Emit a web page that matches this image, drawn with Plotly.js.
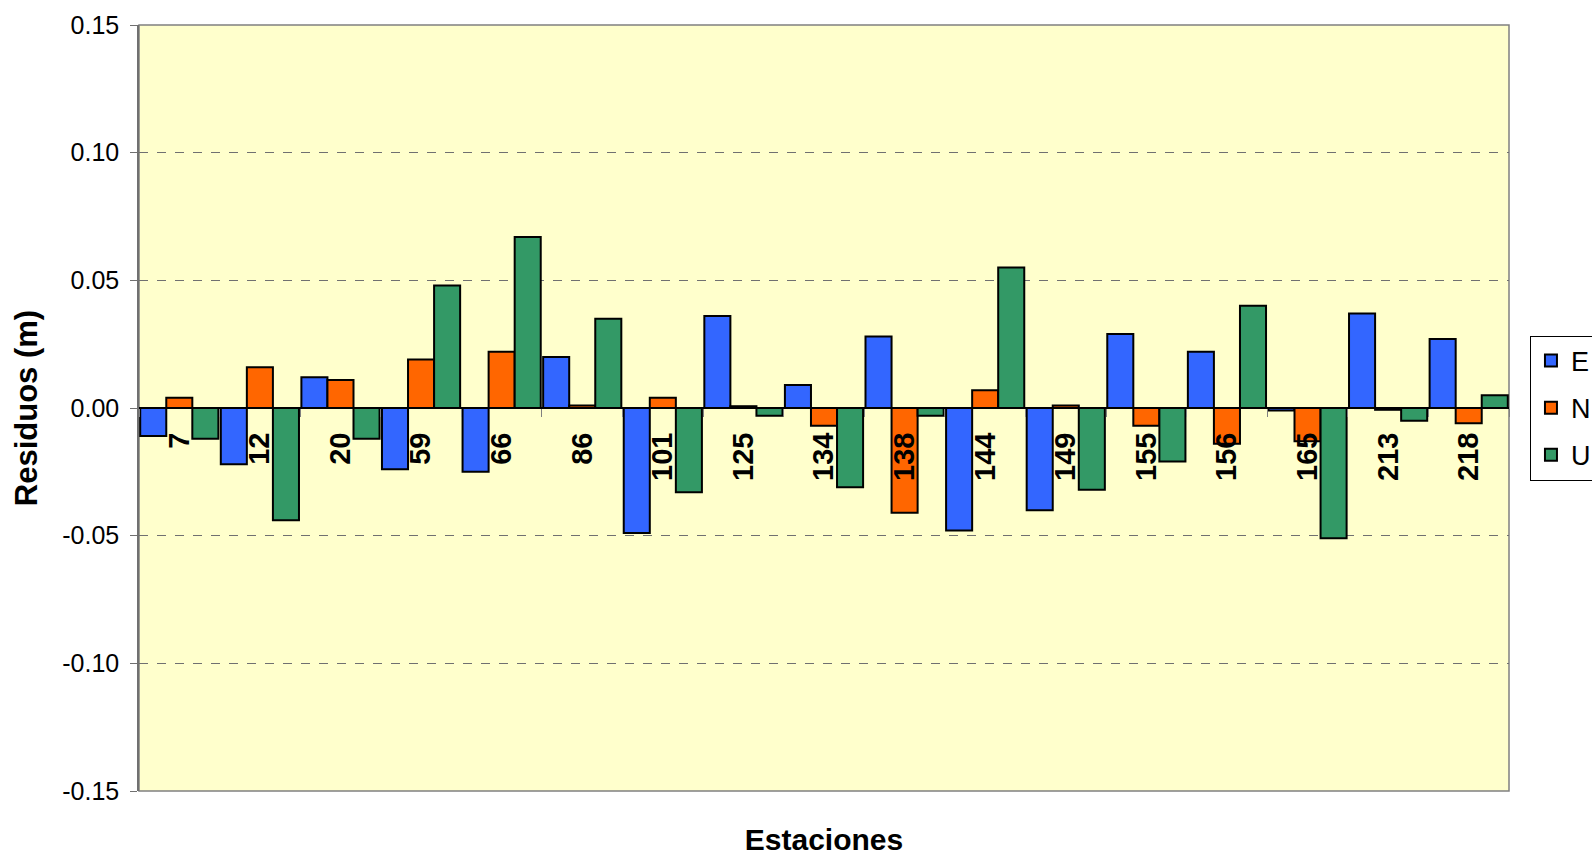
<!DOCTYPE html>
<html>
<head>
<meta charset="utf-8">
<script src="https://cdn.plot.ly/plotly-3.0.1.min.js"></script>
<style>html,body{margin:0;padding:0;background:#fff;}#chart{width:1592px;height:856px;}</style>
</head>
<body>
<div id="chart"></div>
<script>
const stations = ['7','12','20','59','66','86','101','125','134','138','144','149','155','156','165','213','218'];
const valuesE = [-0.011, -0.022, 0.012, -0.024, -0.025, 0.020, -0.049, 0.036, 0.009, 0.028, -0.048, -0.040, 0.029, 0.022, -0.001, 0.037, 0.027];
const valuesN = [0.004, 0.016, 0.011, 0.019, 0.022, 0.001, 0.004, 0.0007, -0.007, -0.041, 0.007, 0.001, -0.007, -0.014, -0.013, -0.0007, -0.006];
const valuesU = [-0.012, -0.044, -0.012, 0.048, 0.067, 0.035, -0.033, -0.003, -0.031, -0.003, 0.055, -0.032, -0.021, 0.040, -0.051, -0.005, 0.005];
const yTickVals = [-0.15, -0.10, -0.05, 0, 0.05, 0.10, 0.15];
const yTickText = ['-0.15', '-0.10', '-0.05', '0.00', '0.05', '0.10', '0.15'];

const FONT = 'Liberation Sans, Arial, sans-serif';
const outline = {color: '#000000', width: 2};

const traces = [
  {type: 'bar', name: 'E', x: stations, y: valuesE, marker: {color: '#3366FF', line: outline}, legendgroup: 'E'},
  {type: 'bar', name: 'N', x: stations, y: valuesN, marker: {color: '#FF6600', line: outline}, legendgroup: 'N'},
  {type: 'bar', name: 'U', x: stations, y: valuesU, marker: {color: '#339966', line: outline}, legendgroup: 'U'}
];

const layout = {
  width: 1592, height: 856,
  margin: {l: 139, r: 83, t: 25, b: 65, autoexpand: false},
  paper_bgcolor: '#FFFFFF',
  plot_bgcolor: '#FFFFCC',
  barmode: 'group',
  bargap: 0.03,
  bargroupgap: 0,
  showlegend: true,
  font: {family: FONT, color: '#000000'},
  legend: {
    x: 1.0153, xanchor: 'left', y: 0.5, yanchor: 'middle',
    bordercolor: '#000000', borderwidth: 1, bgcolor: '#FFFFFF',
    font: {family: FONT, size: 27, color: '#000000'},
    tracegroupgap: 9
  },
  xaxis: {
    type: 'category',
    categoryorder: 'array', categoryarray: stations,
    anchor: 'free', position: 0.5,
    showline: true, linecolor: '#000000', linewidth: 2,
    ticks: 'outside', ticklen: 8, tickcolor: '#808080', tickwidth: 1,
    tickson: 'boundaries',
    tickangle: -90,
    ticklabelstandoff: 12,
    tickfont: {family: FONT, size: 29, color: '#000000', weight: 'bold'},
    showgrid: false, zeroline: false,
    automargin: false,
    title: {text: '<b>Estaciones</b>', font: {family: FONT, size: 30, color: '#000000'}, standoff: 355}
  },
  yaxis: {
    range: [-0.15, 0.15],
    tickvals: yTickVals, ticktext: yTickText,
    ticks: 'outside', ticklen: 7, tickcolor: '#707070',
    ticklabelstandoff: 6,
    showline: true, linecolor: '#707070', linewidth: 1.5,
    showgrid: true, gridcolor: '#707070', griddash: 'dash', gridwidth: 1,
    zeroline: false,
    tickfont: {family: FONT, size: 25, color: '#000000'},
    automargin: false,
    title: {text: '<b>Residuos (m)</b>', font: {family: FONT, size: 31, color: '#000000'}, standoff: 15}
  },
  shapes: [
    {type: 'rect', xref: 'paper', yref: 'paper', x0: 0, x1: 1, y0: 0, y1: 1,
     line: {color: '#808080', width: 1.5}, fillcolor: 'rgba(0,0,0,0)', layer: 'below'}
  ]
};

Plotly.newPlot('chart', traces, layout, {displayModeBar: false, responsive: false});
</script>
</body>
</html>
